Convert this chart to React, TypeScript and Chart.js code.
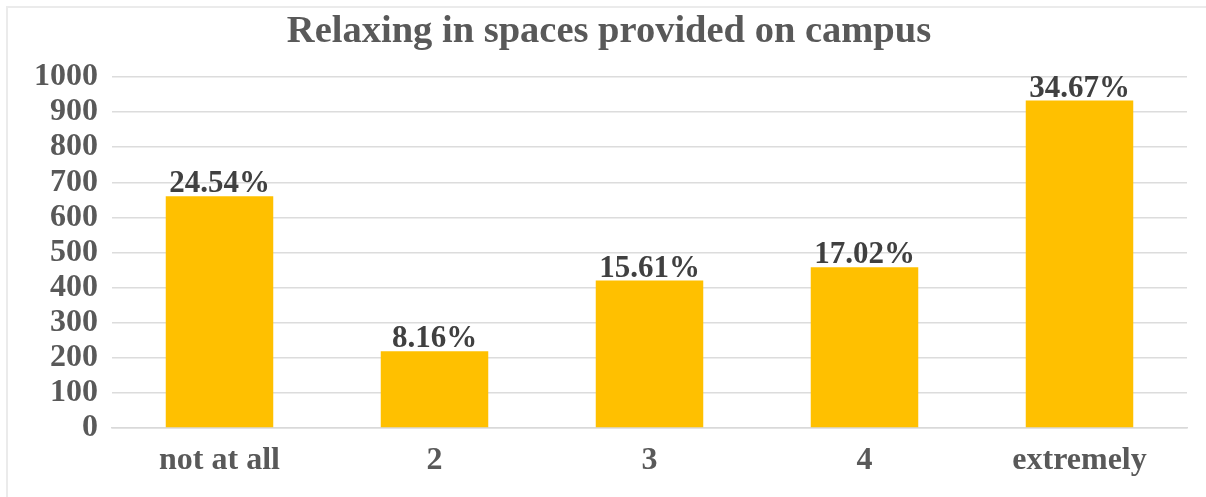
import React, { useEffect, useRef } from "react";
import { Chart, registerables } from "chart.js";

Chart.register(...registerables);

const categories = ["not at all", "2", "3", "4", "extremely"];
const counts = [660, 219, 420, 458, 933];
const percentLabels = ["24.54%", "8.16%", "15.61%", "17.02%", "34.67%"];
const yTicks = [0, 100, 200, 300, 400, 500, 600, 700, 800, 900, 1000];
const titleText = "Relaxing in spaces provided on campus";

const FONT = "'Liberation Serif', 'Times New Roman', serif";

const dataLabelPlugin = {
  id: "dataLabels",
  afterDatasetsDraw(chart: any) {
    const ctx = chart.ctx;
    const meta = chart.getDatasetMeta(0);
    ctx.save();
    ctx.font = `bold 31px ${FONT}`;
    ctx.fillStyle = "#404040";
    ctx.textAlign = "center";
    ctx.textBaseline = "alphabetic";
    meta.data.forEach((bar: any, i: number) => {
      ctx.fillText(percentLabels[i], bar.x, bar.y - 4);
    });
    ctx.restore();
  },
};

const titlePlugin = {
  id: "customTitle",
  afterDraw(chart: any) {
    const ctx = chart.ctx;
    ctx.save();
    ctx.font = `bold 38.5px ${FONT}`;
    ctx.fillStyle = "#595959";
    ctx.textAlign = "center";
    ctx.textBaseline = "alphabetic";
    ctx.fillText(titleText, 609, 42);
    ctx.restore();
  },
};

export default function App() {
  const ref = useRef<HTMLCanvasElement | null>(null);
  useEffect(() => {
    document.body.style.margin = "0";
    const chart = new Chart(ref.current as HTMLCanvasElement, {
      type: "bar",
      data: {
        labels: categories,
        datasets: [
          {
            data: counts,
            backgroundColor: "#FFC000",
            borderWidth: 0,
            barPercentage: 0.5,
            categoryPercentage: 1,
          },
        ],
      },
      options: {
        responsive: false,
        animation: false,
        layout: { padding: { left: 0, right: 19, top: 77, bottom: 0 } },
        plugins: {
          legend: { display: false },
          tooltip: { enabled: false },
          title: { display: false },
        },
        scales: {
          x: {
            grid: { display: false },
            border: { display: true, color: "#d9d9d9", width: 1.5 },
            ticks: {
              color: "#595959",
              font: { family: FONT, size: 32, weight: "bold" },
              padding: 6,
              autoSkip: false,
              maxRotation: 0,
            },
            afterFit(scale: any) {
              scale.height = 69;
            },
          },
          y: {
            min: 0,
            max: 1000,
            afterBuildTicks(scale: any) {
              scale.ticks = yTicks.map((v) => ({ value: v }));
            },
            grid: { color: "#dcdcdc", lineWidth: 1.5, drawTicks: false },
            border: { display: false },
            ticks: {
              color: "#595959",
              font: { family: FONT, size: 32, weight: "bold" },
              padding: 14,
              autoSkip: false,
              callback: (v: any) => String(v),
            },
            afterFit(scale: any) {
              scale.width = 112;
            },
          },
        },
      },
      plugins: [dataLabelPlugin, titlePlugin],
    });
    return () => chart.destroy();
  }, []);

  return (
    <div style={{ position: "absolute", left: 0, top: 0, width: 1206, height: 497, background: "#fff", overflow: "hidden" }}>
      <div
        style={{
          position: "absolute",
          left: 6,
          top: 6,
          width: 1300,
          height: 600,
          borderTop: "2px solid #ebebeb",
          borderLeft: "2px solid #ebebeb",
          boxSizing: "border-box",
        }}
      />
      <canvas ref={ref} width={1206} height={497} style={{ position: "absolute", left: 0, top: 0 }} />
    </div>
  );
}
